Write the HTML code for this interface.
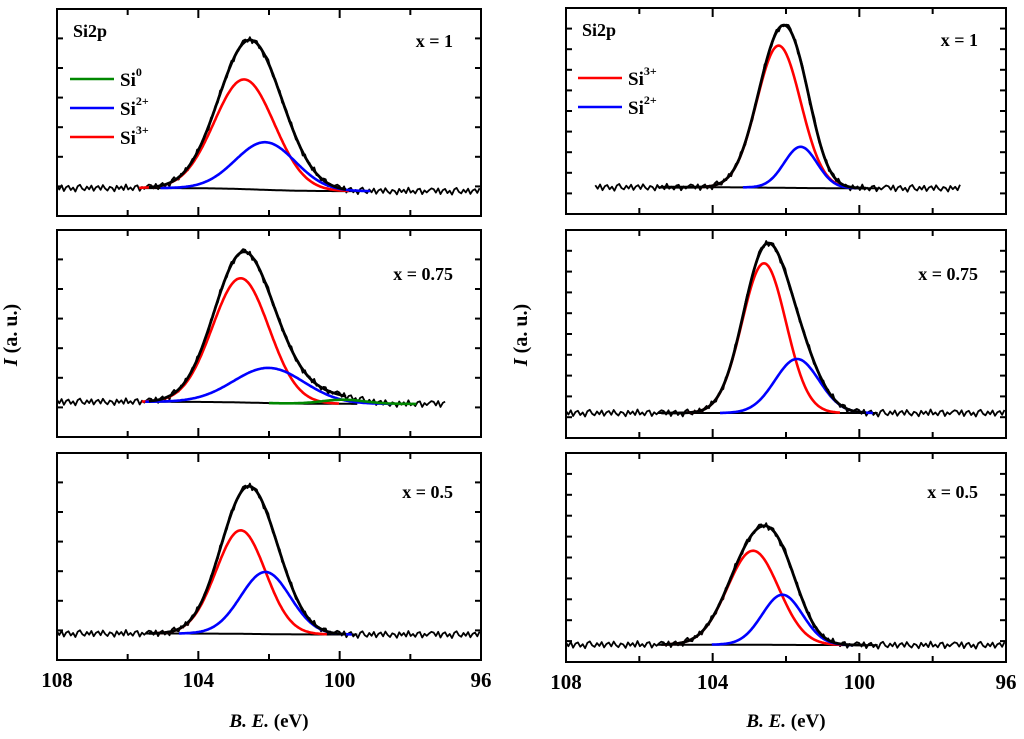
<!DOCTYPE html>
<html><head><meta charset="utf-8"><style>
body{margin:0;background:#fff;}
svg text{font-family:"Liberation Serif",serif;font-weight:bold;}
</style></head><body>
<svg id="c" width="1024" height="734" viewBox="0 0 1024 734" xmlns="http://www.w3.org/2000/svg"></svg>
<script>
// ---- data (intensity in a.u., 0..100 of panel height) ----
const xTickLabels = [108, 104, 100, 96];
const panelLabels = ["x = 1", "x = 0.75", "x = 0.5", "x = 1", "x = 0.75", "x = 0.5"];
// baseline left / right levels
const baseLeft  = [12.0, 16.0, 12.3, 12.5, 12.0, 8.1];
const baseRight = [13.5, 17.0, 12.8, 13.0, 12.0, 8.3];
// Si3+ (red): center, sigma, amplitude
const redCenter = [102.7, 102.8, 102.8, 102.2, 102.6, 102.9];
const redSigma  = [0.85, 0.8, 0.7, 0.6, 0.6, 0.7];
const redAmp    = [53, 60, 50, 69, 72, 45];
// Si2+ (blue)
const blueCenter = [102.1, 102.0, 102.1, 101.6, 101.7, 102.1];
const blueSigma  = [0.85, 1.0, 0.7, 0.45, 0.6, 0.55];
const blueAmp    = [23, 17, 30, 20, 26, 24];
// Si0 (green)
const greenCenter = [99.8, 99.9, 99.8, 0, 0, 0];
const greenSigma  = [0.7, 0.6, 0.7, 0.5, 0.5, 0.5];
const greenAmp    = [0, 2.0, 0, 0, 0, 0];
// data extent
const dataStart = [108, 108, 108, 107.2, 108, 108];
const dataEnd   = [96, 97, 96, 97.2, 96, 96];
// tick step (a.u.)
const yTickStep = [14.3, 14.3, 14.3, 10, 10, 10];
// fixed measurement noise pattern (a.u.)
const noise = [0.8,-0.6,1.1,-1.2,0.4,0.9,-0.8,0.2,-1.4,0.7,1.3,-0.3,-0.9,0.6,-0.5,1.0,-1.1,0.3,0.8,-0.7,1.2,-0.2,-1.0,0.5,0.1,-1.3,0.9,-0.4,0.6,-0.8,1.4,-0.6,0.2,-0.9,0.7,1.0,-1.2,0.3,-0.5,0.4,1.1];

const panels = [
 {x0:57,x1:481,y0:9,y1:216},{x0:57,x1:481,y0:230,y1:437},{x0:57,x1:481,y0:453,y1:660},
 {x0:566,x1:1006,y0:8,y1:214},{x0:566,x1:1006,y0:230,y1:438},{x0:566,x1:1006,y0:453,y1:662}];
const svg=document.getElementById('c');
const NS="http://www.w3.org/2000/svg";
function mk(t,a,p){const e=document.createElementNS(NS,t);for(const k in a)e.setAttribute(k,a[k]);(p||svg).appendChild(e);return e;}
const g=(x,c,s,a)=>a*Math.exp(-((x-c)*(x-c))/(2*s*s));

panels.forEach((P,i)=>{
  const grp=mk('g',{});
  
  
  const X=v=>P.x0+(108-v)/12*(P.x1-P.x0);
  const Y=v=>P.y1-v/100*(P.y1-P.y0);
  const base=x=>baseLeft[i]+(baseRight[i]-baseLeft[i])*(1-1/(1+Math.exp((x-102.3)*1.6)));
  const comps=[[redCenter,redSigma,redAmp,'#f00','si3-curve'],[blueCenter,blueSigma,blueAmp,'#00f','si2-curve'],[greenCenter,greenSigma,greenAmp,'#080','si0-curve']];
  const env=x=>base(x)+g(x,redCenter[i],redSigma[i],redAmp[i])+g(x,blueCenter[i],blueSigma[i],blueAmp[i])+g(x,greenCenter[i],greenSigma[i],greenAmp[i]);
  // noisy data
  let d='';let k=0;
  for(let x=dataStart[i];x>=dataEnd[i]-1e-6;x-=0.065,k++){d+=(k?'L':'M')+X(x).toFixed(1)+','+Y(env(x)+1.2*noise[k%noise.length]).toFixed(1);}
  const dl=mk('path',{d:d,fill:'none',stroke:'#000','stroke-width':1.8,'stroke-linejoin':'round'},grp);
  
  // background
  d='';k=0;for(let x=105.5;x>=99.5;x-=0.05,k++)d+=(k?'L':'M')+X(x).toFixed(1)+','+Y(base(x)).toFixed(1);
  const bl=mk('path',{d:d,fill:'none',stroke:'#000','stroke-width':2},grp);
  
  comps.forEach(c=>{
    if(c[2][i]<=0)return;
    let dd='';let kk=0;
    for(let x=c[0][i]+3.5*c[1][i];x>=c[0][i]-3.5*c[1][i];x-=0.03,kk++)dd+=(kk?'L':'M')+X(x).toFixed(1)+','+Y(base(x)+g(x,c[0][i],c[1][i],c[2][i])).toFixed(1);
    const p=mk('path',{d:dd,fill:'none',stroke:c[3],'stroke-width':2.6},grp);
    
  });
  d='';k=0;for(let x=105.4;x>=99.8;x-=0.03,k++)d+=(k?'L':'M')+X(x).toFixed(1)+','+Y(env(x)).toFixed(1);
  const el=mk('path',{d:d,fill:'none',stroke:'#000','stroke-width':2.8},grp);
  
  // frame
  const fr=mk('rect',{x:P.x0,y:P.y0,width:P.x1-P.x0,height:P.y1-P.y0,fill:'none',stroke:'#000','stroke-width':2},grp);
  
  // x ticks
  for(let v=106;v>=98;v-=2){const L=(v%4===0)?9:6;const xx=X(v);
    mk('line',{x1:xx,x2:xx,y1:P.y1,y2:P.y1-L,stroke:'#000','stroke-width':2},grp);
    mk('line',{x1:xx,x2:xx,y1:P.y0,y2:P.y0+L,stroke:'#000','stroke-width':2},grp);}
  // y ticks
  for(let v=yTickStep[i];v<100;v+=yTickStep[i]){const yy=Y(v);
    mk('line',{x1:P.x0,x2:P.x0+6,y1:yy,y2:yy,stroke:'#000','stroke-width':2},grp);
    mk('line',{x1:P.x1,x2:P.x1-6,y1:yy,y2:yy,stroke:'#000','stroke-width':2},grp);}
  const lb=mk('text',{x:P.x1-28,y:P.y0+(i===0||i===3?38:i===2||i===5?45:50),'font-size':18,'text-anchor':'end'},grp);
  lb.textContent=panelLabels[i];
  
  if(i===2||i===5){
    xTickLabels.forEach(v=>{const t=mk('text',{x:X(v),y:P.y1+27,'font-size':21,'text-anchor':'middle'},grp);t.textContent=v;
      });
    const xt=mk('text',{x:(P.x0+P.x1)/2,y:727,'font-size':19,'text-anchor':'middle'},grp);
    xt.innerHTML='<tspan font-style="italic">B. E.</tspan> (eV)';
    
  }
  if(i===0||i===3){
    const s=mk('text',{x:P.x0+16,y:P.y0+28,'font-size':18},grp);s.textContent='Si2p';
    
  }
});
// y-axis titles
[[17,335],[527,335]].forEach(p=>{const t=mk('text',{x:p[0],y:p[1],'font-size':20,'text-anchor':'middle',transform:'rotate(-90 '+p[0]+' '+p[1]+')'});
  t.innerHTML='<tspan font-style="italic">I</tspan> (a. u.)';
  });
// legends
function legend(x,y,items){items.forEach((it,j)=>{const yy=y+j*29;
  const gg=mk('g',{});
  mk('line',{x1:x,x2:x+44,y1:yy,y2:yy,stroke:it[1],'stroke-width':2.4},gg);
  const t=mk('text',{x:x+50,y:yy+7,'font-size':19},gg);t.innerHTML='Si<tspan font-size="12" dy="-10">'+it[0]+'</tspan>';});}
legend(70,79,[['0','#080'],['2+','#00f'],['3+','#f00']]);
legend(578,78,[['3+','#f00'],['2+','#00f']]);
</script>
</body></html>
